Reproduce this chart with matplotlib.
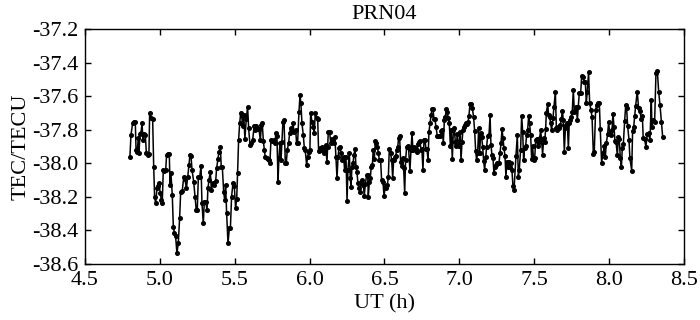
"""Série TEC de PRN04 (UT en heures), style figure d'article."""
import matplotlib
matplotlib.use("Agg")
import matplotlib.pyplot as plt
from matplotlib.ticker import FormatStrFormatter

ut_h = [
    4.800, 4.807, 4.818, 4.827, 4.836, 4.841, 4.849, 4.856, 4.861, 4.867,
    4.874, 4.881, 4.887, 4.894, 4.903, 4.910, 4.918, 4.927, 4.932, 4.941,
    4.952, 4.959, 4.965, 4.972, 4.981, 4.987, 4.994, 5.003, 5.010, 5.016,
    5.023, 5.030, 5.039, 5.045, 5.054, 5.063, 5.068, 5.074, 5.083, 5.090,
    5.097, 5.105, 5.114, 5.123, 5.132, 5.139, 5.150, 5.159, 5.168, 5.177,
    5.186, 5.194, 5.201,
    5.208, 5.215, 5.226, 5.235, 5.243, 5.250, 5.257, 5.266, 5.275, 5.281,
    5.290, 5.297, 5.306, 5.315, 5.321, 5.328, 5.337, 5.344, 5.353, 5.361,
    5.373, 5.379, 5.388, 5.395, 5.404, 5.410, 5.417, 5.426, 5.433, 5.439,
    5.446, 5.455, 5.464, 5.471, 5.479, 5.488, 5.497, 5.506, 5.513, 5.519,
    5.526, 5.533, 5.540, 5.546, 5.553, 5.560, 5.568, 5.577, 5.586, 5.593,
    5.602, 5.611, 5.620, 5.629,
    5.637, 5.644, 5.653, 5.662, 5.671, 5.678, 5.684, 5.691, 5.698, 5.704,
    5.713, 5.722, 5.729, 5.735, 5.742, 5.751, 5.760, 5.769, 5.775, 5.782,
    5.789, 5.795, 5.802, 5.809, 5.815, 5.822, 5.829, 5.838, 5.844, 5.851,
    5.860, 5.867, 5.873, 5.882, 5.889, 5.896, 5.907, 5.913, 5.920, 5.929,
    5.936, 5.942, 5.949, 5.958, 5.965, 5.971, 5.980, 5.987, 5.994, 6.002,
    6.007, 6.016, 6.025, 6.031, 6.038, 6.047, 6.054, 6.060,
    6.067, 6.076, 6.085, 6.094, 6.100, 6.107, 6.116, 6.120, 6.125, 6.134,
    6.141, 6.147, 6.154, 6.163, 6.169, 6.176, 6.183, 6.190, 6.196, 6.203,
    6.212, 6.218, 6.227, 6.234, 6.243, 6.250, 6.256, 6.265, 6.272, 6.276,
    6.283, 6.290, 6.296, 6.303, 6.310, 6.316, 6.323, 6.330, 6.336, 6.343,
    6.352, 6.359, 6.365, 6.372, 6.381, 6.388, 6.392, 6.399, 6.405, 6.412,
    6.419, 6.425, 6.432, 6.439, 6.446, 6.452, 6.459, 6.466, 6.474, 6.481,
    6.490, 6.497,
    6.506, 6.512, 6.519, 6.526, 6.532, 6.541, 6.548, 6.555, 6.561, 6.568,
    6.575, 6.581, 6.588, 6.595, 6.601, 6.608, 6.615, 6.621, 6.628, 6.635,
    6.641, 6.648, 6.655, 6.661, 6.670, 6.677, 6.684, 6.690, 6.697, 6.704,
    6.710, 6.717, 6.724, 6.730, 6.737, 6.744, 6.750, 6.757, 6.764, 6.771,
    6.777, 6.784, 6.791, 6.797, 6.804, 6.811, 6.817, 6.824, 6.831, 6.837,
    6.844, 6.853, 6.860, 6.866, 6.873, 6.880, 6.886, 6.893, 6.900, 6.906,
    6.913, 6.920, 6.926,
    6.933, 6.940, 6.946, 6.953, 6.960, 6.966, 6.973, 6.980, 6.986, 6.993,
    7.000, 7.006, 7.011, 7.018, 7.024, 7.031, 7.038, 7.044, 7.051, 7.058,
    7.064, 7.071, 7.080, 7.087, 7.095, 7.102, 7.109, 7.115, 7.122, 7.129,
    7.136, 7.142, 7.149, 7.156, 7.162, 7.169, 7.176, 7.182, 7.189, 7.198,
    7.205, 7.211, 7.218, 7.225, 7.231, 7.238, 7.245, 7.251, 7.258, 7.265,
    7.271, 7.278, 7.285, 7.291, 7.298, 7.305, 7.311, 7.318, 7.325, 7.331,
    7.338, 7.345, 7.351, 7.358, 7.365,
    7.378, 7.387, 7.394, 7.400, 7.409, 7.416, 7.423, 7.429, 7.436, 7.443,
    7.449, 7.456, 7.463, 7.469, 7.476, 7.483, 7.489, 7.496, 7.503, 7.510,
    7.516, 7.523, 7.530, 7.536, 7.543, 7.550, 7.556, 7.563, 7.570, 7.576,
    7.581, 7.590, 7.596, 7.603, 7.610, 7.616, 7.625, 7.632, 7.641, 7.648,
    7.654, 7.661, 7.668, 7.674, 7.681, 7.688, 7.694, 7.701, 7.708, 7.714,
    7.721, 7.728, 7.734, 7.741, 7.748, 7.754, 7.761, 7.768, 7.774, 7.781,
    7.788, 7.794, 7.801,
    7.810, 7.817, 7.826, 7.834, 7.841, 7.848, 7.854, 7.863, 7.870, 7.879,
    7.886, 7.895, 7.901, 7.910, 7.917, 7.926, 7.935, 7.941, 7.950, 7.959,
    7.968, 7.975, 7.981, 7.990, 7.997, 8.004, 8.013, 8.019, 8.026, 8.033,
    8.039, 8.046, 8.055, 8.062, 8.068, 8.075, 8.082, 8.088, 8.095, 8.104,
    8.111, 8.117, 8.124, 8.133,
    8.139, 8.151, 8.157, 8.164, 8.171, 8.177, 8.188, 8.197, 8.206, 8.215,
    8.222, 8.228, 8.237, 8.246, 8.255, 8.264, 8.273, 8.282, 8.286, 8.295,
    8.304, 8.313, 8.322, 8.331, 8.340, 8.349, 8.358,
]

tec = [
    -37.964, -37.832, -37.762, -37.754, -37.756, -37.921, -37.931, -37.846, -37.937, -37.826,
    -37.818, -37.762, -37.861, -37.826, -37.832, -37.941, -37.949, -37.945, -37.697, -37.732,
    -37.738, -38.024, -38.199, -38.239, -38.149, -38.133, -38.120, -38.179, -38.219, -38.235,
    -38.040, -38.044, -38.040, -37.951, -37.947, -37.947, -38.129, -38.060, -38.189, -38.378,
    -38.413, -38.433, -38.536, -38.477, -38.328, -38.169, -38.163, -38.084, -38.096, -38.149,
    -38.084, -38.010, -37.951,
    -37.957, -38.040, -38.110, -38.199, -38.278, -38.278, -38.080, -38.080, -38.016, -38.235,
    -38.358, -38.229, -38.229, -38.278, -38.149, -38.100, -38.050, -38.159, -38.120, -38.129,
    -38.104, -38.030, -37.975, -37.931, -37.905, -38.020, -38.020, -38.169, -38.219, -38.129,
    -38.298, -38.477, -38.388, -38.388, -38.199, -38.120, -38.135, -38.268, -38.215, -38.060,
    -37.858, -37.762, -37.697, -37.713, -37.778, -37.713, -37.852, -37.738, -37.663, -37.792,
    -37.891, -37.881, -37.861, -37.778,
    -37.802, -37.778, -37.796, -37.798, -37.861, -37.772, -37.762, -37.867, -37.921, -37.965,
    -37.971, -37.977, -37.981, -37.996, -37.861, -37.867, -37.861, -37.877, -37.818, -37.838,
    -38.110, -37.971, -37.881, -37.981, -37.871, -37.752, -37.742, -38.000, -38.000, -37.921,
    -37.877, -37.818, -37.792, -37.802, -37.762, -37.812, -37.802, -37.877, -37.877, -37.693,
    -37.593, -37.643, -37.762, -37.832, -37.911, -37.921, -38.010, -37.961, -37.931, -37.921,
    -37.699, -37.752, -37.782, -37.818, -37.699, -37.732, -37.738, -37.925,
    -37.911, -37.921, -37.905, -37.941, -37.917, -37.891, -37.991, -37.905, -37.812, -37.812,
    -37.881, -37.852, -37.871, -37.881, -37.842, -37.961, -38.090, -37.961, -37.911, -37.905,
    -37.941, -37.981, -37.961, -38.040, -37.961, -38.223, -38.040, -37.937, -38.090, -38.139,
    -38.020, -38.000, -37.951, -37.917, -38.020, -38.050, -38.120, -38.149, -38.169, -38.110,
    -38.100, -38.129, -38.195, -38.124, -38.070, -38.070, -38.199, -38.110, -38.090, -38.020,
    -38.010, -37.921, -37.977, -37.865, -37.881, -37.901, -37.937, -37.981, -37.981, -38.100,
    -38.110, -38.195,
    -38.135, -38.149, -38.129, -38.080, -37.917, -37.941, -37.981, -38.090, -37.981, -37.965,
    -37.957, -37.921, -37.905, -37.846, -37.838, -37.991, -38.016, -37.971, -38.030, -38.175,
    -37.981, -37.905, -37.897, -37.911, -38.044, -37.921, -37.822, -37.921, -37.905, -37.911,
    -37.917, -37.931, -37.885, -37.871, -37.865, -37.921, -37.917, -38.040, -37.861, -37.858,
    -37.917, -37.917, -37.981, -37.812, -37.762, -37.713, -37.679, -37.679, -37.738, -37.738,
    -37.782, -37.838, -37.838, -37.838, -37.838, -37.806, -37.802, -37.877, -37.742, -37.723,
    -37.679, -37.693, -37.732,
    -37.762, -37.897, -37.802, -37.977, -37.802, -37.792, -37.871, -37.897, -37.826, -37.871,
    -37.897, -37.812, -37.981, -37.871, -37.802, -37.782, -37.772, -37.762, -37.766, -37.752,
    -37.719, -37.647, -37.647, -37.673, -37.723, -37.806, -37.925, -37.981, -37.941, -37.792,
    -37.937, -37.818, -37.842, -37.905, -37.985, -38.040, -37.961, -37.901, -37.838, -37.832,
    -37.713, -37.891, -37.951, -37.971, -38.060, -38.020, -38.010, -37.996, -37.996, -37.996,
    -37.941, -37.881, -37.798, -37.846, -37.911, -37.957, -38.080, -37.991, -38.020, -37.991,
    -38.024, -38.000, -38.040, -38.135, -38.159,
    -37.956, -37.831, -38.079, -38.040, -37.921, -37.718, -37.811, -37.980, -37.911, -37.897,
    -37.831, -37.802, -37.718, -37.762, -37.831, -37.976, -37.897, -37.980, -37.970, -37.861,
    -37.857, -37.897, -37.871, -37.851, -37.802, -37.871, -37.950, -37.851, -37.871, -37.798,
    -37.698, -37.647, -37.712, -37.722, -37.762, -37.802, -37.732, -37.663, -37.573, -37.792,
    -37.802, -37.782, -37.792, -37.772, -37.738, -37.686, -37.742, -37.931, -37.792, -37.772,
    -37.762, -37.911, -37.762, -37.742, -37.722, -37.692, -37.563, -37.692, -37.682, -37.663,
    -37.742, -37.663, -37.583,
    -37.583, -37.478, -37.484, -37.514, -37.514, -37.639, -37.573, -37.458, -37.639, -37.682,
    -37.722, -37.944, -37.931, -37.682, -37.653, -37.639, -37.643, -37.798, -37.996, -37.941,
    -37.897, -37.960, -37.881, -37.827, -37.752, -37.821, -37.831, -37.802, -37.706, -37.786,
    -37.865, -37.871, -37.950, -37.841, -37.857, -37.970, -38.024, -37.911, -37.885, -37.746,
    -37.653, -37.672, -37.778, -37.861,
    -37.970, -38.044, -37.806, -37.786, -37.718, -37.659, -37.573, -37.672, -37.686, -37.738,
    -37.718, -37.851, -37.857, -37.901, -37.825, -37.821, -37.861, -37.623, -37.782, -37.742,
    -37.752, -37.464, -37.448, -37.573, -37.653, -37.752, -37.845,
]

x_ticks = [4.5, 5.0, 5.5, 6.0, 6.5, 7.0, 7.5, 8.0, 8.5]
y_ticks = [-38.6, -38.4, -38.2, -38.0, -37.8, -37.6, -37.4, -37.2]

plt.rcParams["font.family"] = ["Liberation Serif", "DejaVu Serif"]
plt.rcParams["axes.unicode_minus"] = False

fig = plt.figure(figsize=(7.0, 3.2), dpi=100)
ax = fig.add_axes([0.1214, 0.175, 0.8557, 0.734])

ax.plot(ut_h, tec, color="black", lw=1.1, marker="o", ms=2.6)

ax.set_xlim(4.5, 8.5)
ax.set_ylim(-38.6, -37.2)
ax.set_xticks(x_ticks)
ax.set_yticks(y_ticks)
ax.xaxis.set_major_formatter(FormatStrFormatter("%.1f"))
ax.yaxis.set_major_formatter(FormatStrFormatter("%.1f"))
ax.tick_params(direction="in", top=True, right=True, length=4, width=1,
               labelsize=16)
ax.tick_params(axis="x", pad=5)
ax.tick_params(axis="y", pad=5)
for sp in ax.spines.values():
    sp.set_linewidth(1.0)

ax.set_xlabel("UT (h)", fontsize=16, labelpad=3)
ax.set_ylabel("TEC/TECU", fontsize=16, labelpad=1)
ax.set_title("PRN04", fontsize=16, pad=7)

fig.savefig("out.png", dpi=100)
plt.close(fig)
